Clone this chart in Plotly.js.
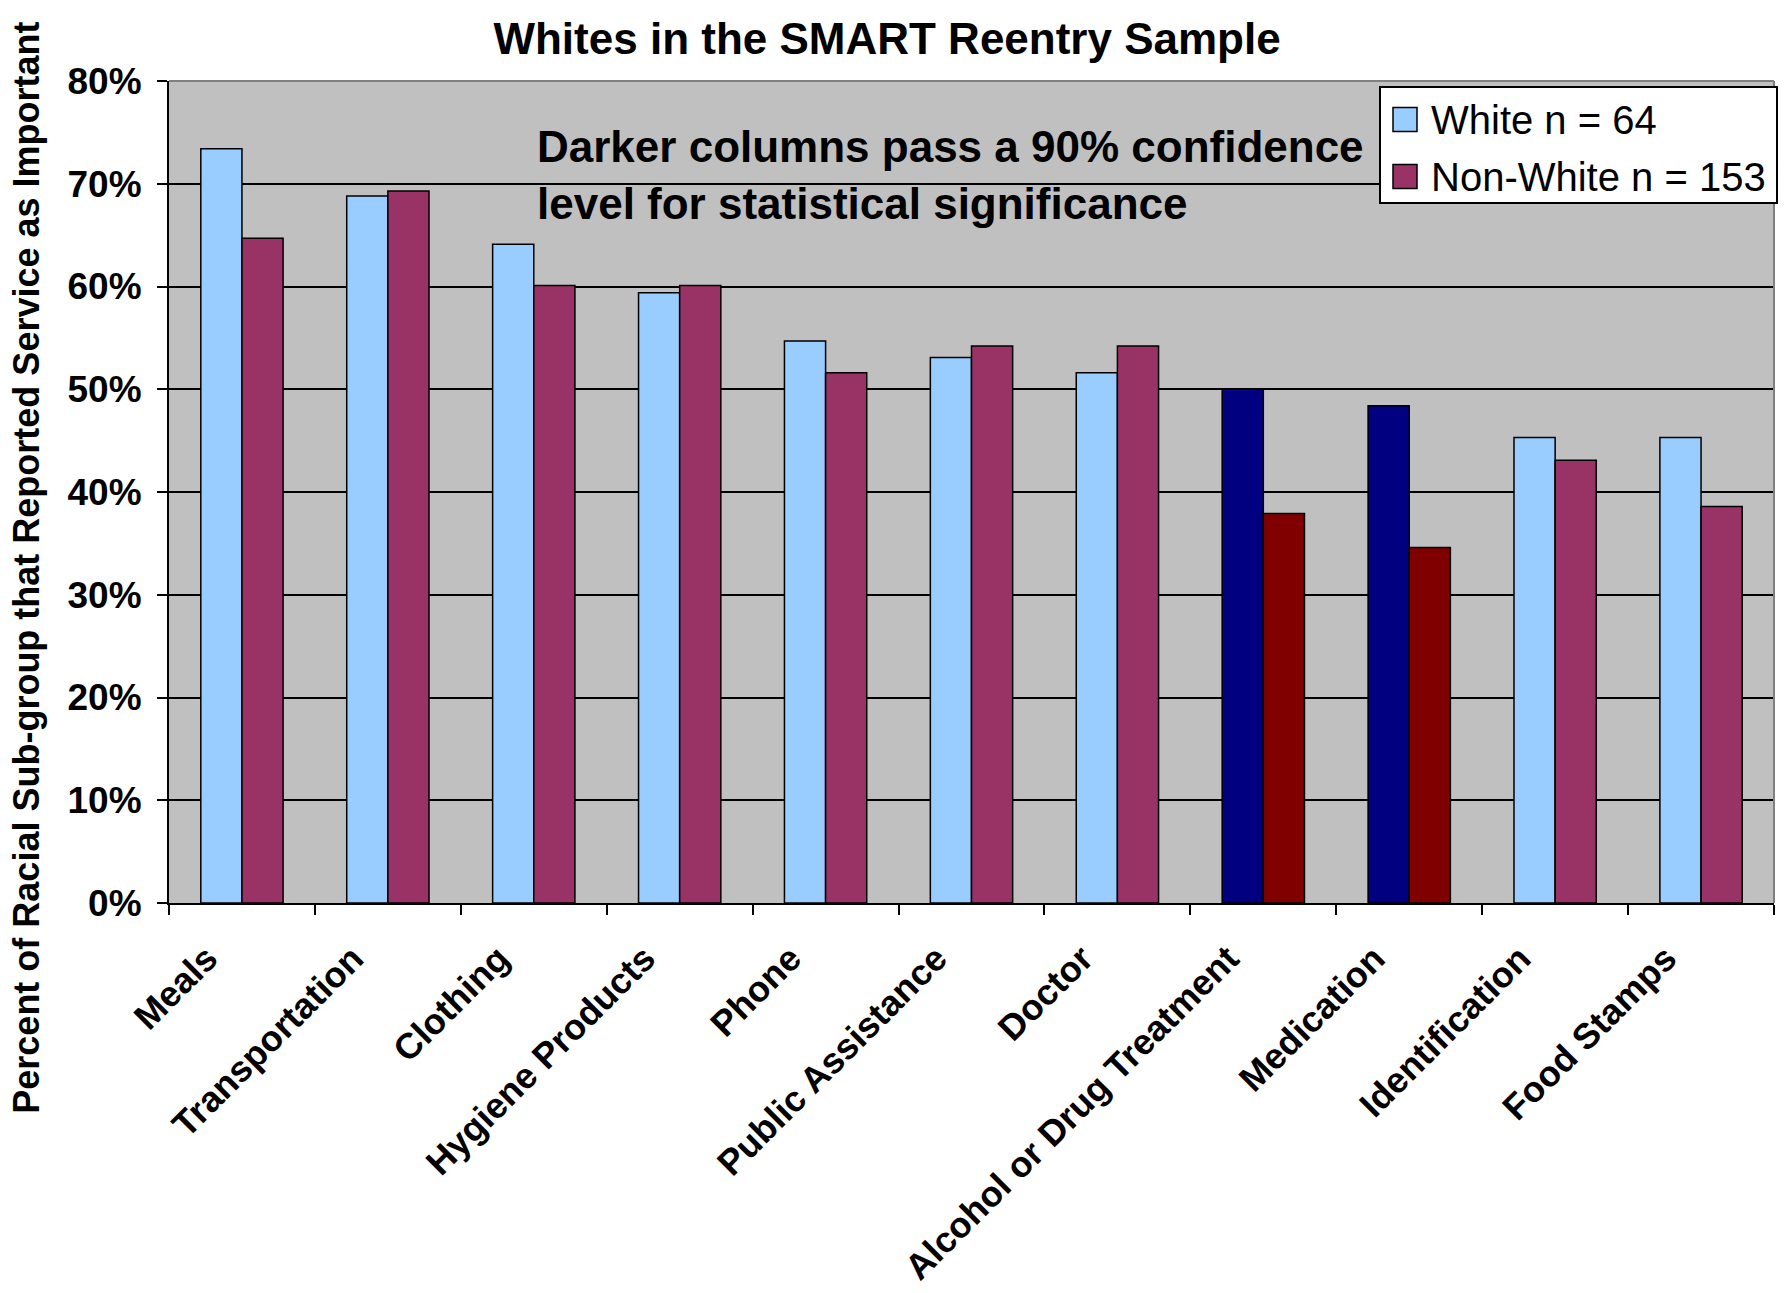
<!DOCTYPE html>
<html>
<head>
<meta charset="utf-8">
<script src="https://cdn.plot.ly/plotly-3.0.1.min.js"></script>
<style>html,body{margin:0;padding:0;background:#fff;}#chart{width:1791px;height:1293px;}</style>
</head>
<body>
<div id="chart"></div>
<script>
// ---- data ----
const categories = ["Meals", "Transportation", "Clothing", "Hygiene Products", "Phone",
  "Public Assistance", "Doctor", "Alcohol or Drug Treatment", "Medication",
  "Identification", "Food Stamps"];
const whiteValues = [0.734, 0.688, 0.641, 0.594, 0.547, 0.531, 0.516, 0.500, 0.484, 0.453, 0.453];
const nonWhiteValues = [0.647, 0.693, 0.601, 0.601, 0.516, 0.542, 0.542, 0.379, 0.346, 0.431, 0.386];
const significant = [false, false, false, false, false, false, false, true, true, false, false];
const seriesNames = ["White n = 64", "Non-White n = 153"];
const titleText = "Whites in the SMART Reentry Sample";
const yTitleText = "Percent of Racial Sub-group that Reported Service as Important";
const noteText = "Darker columns pass a 90% confidence<br>level for statistical significance";

// ---- styles ----
const FONT = "Liberation Sans, Arial, sans-serif";
const LIGHT = ["#99CCFF", "#993366"];
const DARK = ["#000080", "#800000"];
const whiteColors = significant.map(s => s ? DARK[0] : LIGHT[0]);
const nonWhiteColors = significant.map(s => s ? DARK[1] : LIGHT[1]);

// plot area in page pixels (for placing legend / notes)
const PL = 169, PR = 1774, PT = 81, PB = 903.5;
const px = v => (v - PL) / (PR - PL);
const py = v => (PB - v) / (PB - PT);

const traces = [
  {type: "bar", name: seriesNames[0], x: categories, y: whiteValues, showlegend: false,
   marker: {color: whiteColors, line: {color: "#000000", width: 1.5}}, hoverinfo: "x+y"},
  {type: "bar", name: seriesNames[1], x: categories, y: nonWhiteValues, showlegend: false,
   marker: {color: nonWhiteColors, line: {color: "#000000", width: 1.5}}, hoverinfo: "x+y"}
];

// custom legend (box, swatches, labels)
const legendShapes = [
  {type: "rect", xref: "paper", yref: "paper", x0: px(1380), x1: px(1777), y0: py(203), y1: py(87),
   fillcolor: "#ffffff", line: {color: "#000", width: 2}, layer: "above"}
];
const legendAnns = [];
const rowCenters = [119.5, 176.5];
seriesNames.forEach((name, i) => {
  legendShapes.push({type: "rect", xref: "paper", yref: "paper",
    x0: px(1393), x1: px(1417), y0: py(rowCenters[i] + 12), y1: py(rowCenters[i] - 12),
    fillcolor: LIGHT[i], line: {color: "#000", width: 1.5}, layer: "above"});
  legendAnns.push({text: name, xref: "paper", yref: "paper", x: px(1429), y: py(rowCenters[i] + 1),
    xanchor: "left", yanchor: "middle", showarrow: false,
    font: {family: FONT, size: 40, color: "#000"}});
});

const layout = {
  width: 1791, height: 1293,
  margin: {l: PL, r: 1791 - PR, t: PT, b: 1293 - PB, pad: 0},
  paper_bgcolor: "#ffffff", plot_bgcolor: "#C0C0C0",
  font: {family: FONT, color: "#000000"},
  barmode: "group", bargap: 0.436, bargroupgap: 0,
  showlegend: false,
  title: {text: titleText, font: {family: FONT, size: 44, weight: 700, color: "#000"},
          x: 0.4953, xref: "container", xanchor: "center",
          y: 0.970, yref: "container", yanchor: "middle"},
  xaxis: {type: "category", tickson: "boundaries", ticks: "outside", ticklen: 10, tickwidth: 2,
          tickcolor: "#000", showline: true, linecolor: "#000", linewidth: 2,
          showgrid: false, tickangle: -45, ticklabelstandoff: 18, ticklabelshift: -35,
          tickfont: {family: FONT, size: 36, weight: 700, color: "#000"}, fixedrange: true},
  yaxis: {range: [0, 0.8], dtick: 0.1, tickformat: ".0%", ticks: "outside", ticklen: 10,
          tickwidth: 2, tickcolor: "#000", showline: true, linecolor: "#000", linewidth: 2,
          showgrid: true, gridcolor: "#000", gridwidth: 2, zeroline: false, ticklabelstandoff: 8,
          tickfont: {family: FONT, size: 37, weight: 700, color: "#000"}, fixedrange: true},
  shapes: [
    {type: "line", xref: "paper", yref: "paper", x0: 0, x1: 1, y0: 1, y1: 1,
     line: {color: "#808080", width: 2}, layer: "above"},
    {type: "line", xref: "paper", yref: "paper", x0: 1, x1: 1, y0: 0, y1: 1,
     line: {color: "#808080", width: 2}, layer: "above"}
  ].concat(legendShapes),
  annotations: [
    {text: noteText, xref: "paper", yref: "paper", x: px(535), y: py(120),
     xanchor: "left", yanchor: "top", align: "left", showarrow: false,
     font: {family: FONT, size: 44, weight: 700, color: "#000"}},
    {text: yTitleText, xref: "paper", yref: "paper", x: px(27), y: py(568),
     xanchor: "center", yanchor: "middle", textangle: -90, showarrow: false,
     font: {family: FONT, size: 36, weight: 700, color: "#000"}}
  ].concat(legendAnns)
};

Plotly.newPlot("chart", traces, layout, {displayModeBar: false, staticPlot: true});
</script>
</body>
</html>
